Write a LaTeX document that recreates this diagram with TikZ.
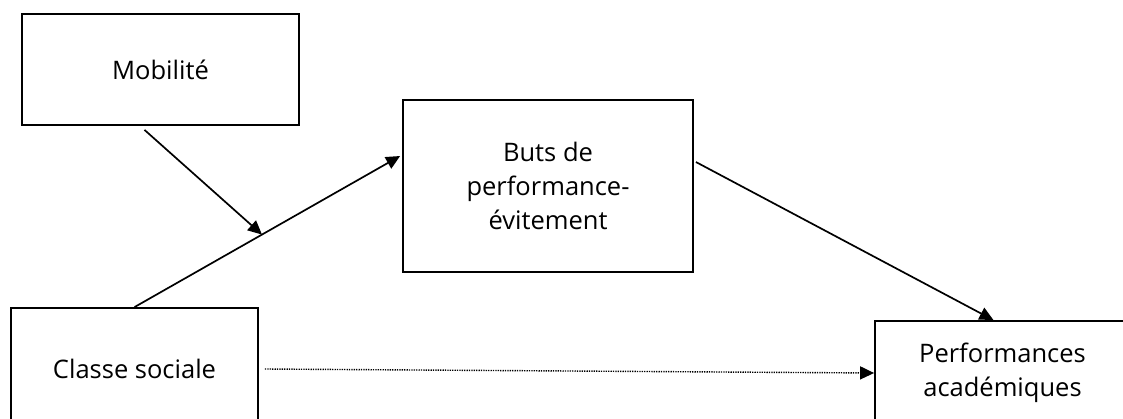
\documentclass[tikz,border=0pt]{standalone}
\usepackage{fontspec}
\setmainfont{Open Sans}
\usetikzlibrary{positioning}
\usetikzlibrary{calc}
\usetikzlibrary{arrows.meta}
\begin{document}
\begin{tikzpicture}[
			x=1pt, y=-1pt,
			box/.style={draw, line width=1.8pt, inner sep=0pt, align=center, font=\fontsize{25.5}{34}\selectfont},
			link/.style={line width=1.7pt, -{Triangle[length=14pt, width=13pt]}}
		]
			\useasboundingbox (0,0) rectangle (1123,418);
			\clip (0,0) rectangle (1123,418);
			\node[box, minimum width=277pt, minimum height=111pt] (mob) at (160.5,69.5) {Mobilité};
			\node[box, minimum width=290pt, minimum height=172pt] (buts) at (548,186) {Buts de\\performance-\\évitement};
			\node[box, minimum width=247pt, minimum height=122pt] (classe) at (134.5,369) {Classe sociale};
			\node[box, minimum width=255pt, minimum height=104pt] (perf) at (1002.5,373) {Performances\\académiques};
			\draw[link] (classe.north) -- coordinate[pos=0.48] (mid) ([xshift=-2pt, yshift=30pt]buts.west);
			\draw[link] ([xshift=-16pt, yshift=-4pt]mob.south) -- (mid);
			\draw[link] ([xshift=2pt, yshift=24pt]buts.east) -- ([xshift=-9pt]perf.north);
			\draw[link, line width=1.4pt, dash pattern=on 1.3pt off 1.1pt] ([xshift=6pt]classe.east) -- (perf.west);
		\end{tikzpicture}
\end{document}
